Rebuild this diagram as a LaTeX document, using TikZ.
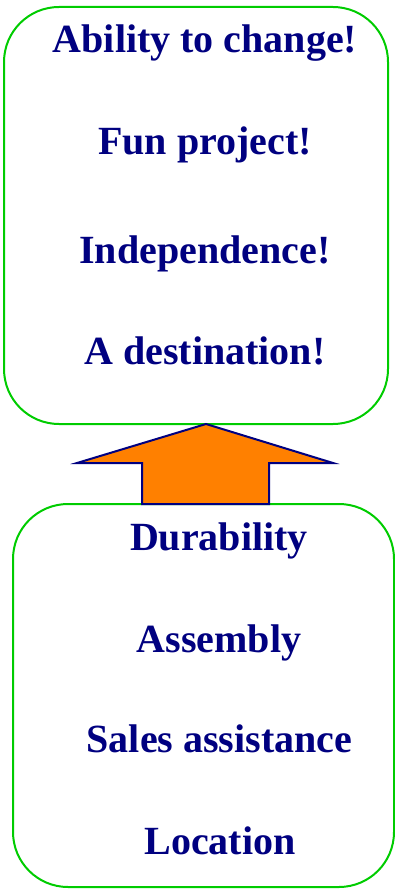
\documentclass[tikz,border=0pt]{standalone}
\usepackage{fontspec}
\setmainfont{Liberation Serif}
\definecolor{navy}{HTML}{000080}
\definecolor{boxgreen}{HTML}{00CC00}
\definecolor{arroworange}{HTML}{FF8000}
\begin{document}
\begin{tikzpicture}[x=1pt,y=-1pt,
  box/.style={draw=boxgreen, line width=2pt, rounded corners=55pt, rectangle, inner sep=0pt},
  label/.style={anchor=base, text=navy, font=\fontsize{40}{48}\selectfont\bfseries, inner sep=0pt},
  bigarrow/.style={draw=navy, fill=arroworange, line width=2pt, line join=miter}]
\useasboundingbox (0,0) rectangle (395,893);
\node[box, minimum width=384pt, minimum height=417pt] (topbox) at (196,215.5) {};
\node[box, minimum width=381pt, minimum height=383pt] (botbox) at (203.5,695.5) {};
\draw[bigarrow] (206,424) -- (333,463) -- (269,463) -- (269,504) -- (142,504) -- (142,463) -- (77,463) -- cycle;
\node[label] (t1) at (205,53) {Ability to change!};
\node[label] (t2) at (205,155) {Fun project!};
\node[label] (t3) at (205,263) {Independence!};
\node[label] (t4) at (205,364) {A destination!};
\node[label] (b1) at (219,550) {Durability};
\node[label] (b2) at (219,652) {Assembly};
\node[label] (b3) at (219.5,752) {Sales assistance};
\node[label] (b4) at (220,854) {Location};
\end{tikzpicture}
\end{document}
